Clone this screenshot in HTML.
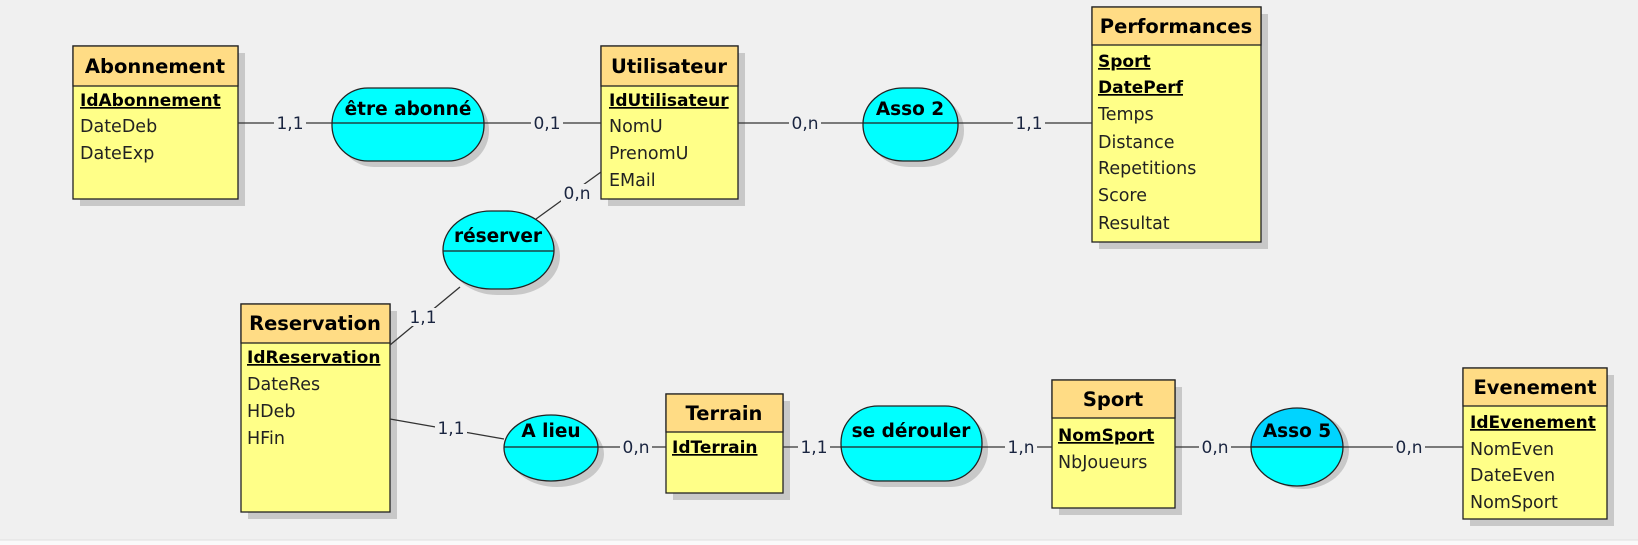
<!DOCTYPE html>
<html><head><meta charset="utf-8"><style>
html,body{margin:0;padding:0;background:#f0f0f0;}
svg{display:block;}
text{font-family:"DejaVu Sans","Liberation Sans",sans-serif;}
.t{font-weight:bold;font-size:19.5px;fill:#000;}
.a{font-size:17.5px;fill:#222;}
.k{font-size:17px;font-weight:bold;fill:#000;text-decoration:underline;}
.c{font-size:17px;fill:#1a2540;}
</style></head><body>
<svg width="1638" height="545" viewBox="0 0 1638 545" xmlns="http://www.w3.org/2000/svg">
<rect x="0" y="0" width="1638" height="545" fill="#f0f0f0"/>
<rect x="0" y="540" width="1638" height="5" fill="#fafafa"/>
<line x1="0" y1="540" x2="1638" y2="540" stroke="#e0e0e0"/>

<!-- association shadows -->
<g fill="#c8c8c8">
<rect x="338" y="94" width="151" height="73" rx="36"/>
<rect x="869" y="94" width="95" height="73" rx="40" ry="36"/>
<rect x="449" y="217" width="111" height="78" rx="48" ry="39"/>
<ellipse cx="557" cy="454" rx="47" ry="33"/>
<rect x="847" y="412" width="141" height="75" rx="37"/>
<ellipse cx="1303" cy="450" rx="46" ry="39"/>
</g>

<!-- entities -->
<g stroke="#222" stroke-width="1.3">
<rect x="80" y="53" width="165" height="153" fill="#c8c8c8" stroke="none"/>
<rect x="73" y="46" width="165" height="153" fill="#ffff88"/>
<rect x="73" y="46" width="165" height="40" fill="#ffdc85"/>
<rect x="608" y="53" width="137" height="153" fill="#c8c8c8" stroke="none"/>
<rect x="601" y="46" width="137" height="153" fill="#ffff88"/>
<rect x="601" y="46" width="137" height="40" fill="#ffdc85"/>
<rect x="1099" y="14" width="169" height="235" fill="#c8c8c8" stroke="none"/>
<rect x="1092" y="7" width="169" height="235" fill="#ffff88"/>
<rect x="1092" y="7" width="169" height="38" fill="#ffdc85"/>
<rect x="248" y="311" width="149" height="208" fill="#c8c8c8" stroke="none"/>
<rect x="241" y="304" width="149" height="208" fill="#ffff88"/>
<rect x="241" y="304" width="149" height="39" fill="#ffdc85"/>
<rect x="673" y="401" width="117" height="99" fill="#c8c8c8" stroke="none"/>
<rect x="666" y="394" width="117" height="99" fill="#ffff88"/>
<rect x="666" y="394" width="117" height="38" fill="#ffdc85"/>
<rect x="1059" y="387" width="123" height="128" fill="#c8c8c8" stroke="none"/>
<rect x="1052" y="380" width="123" height="128" fill="#ffff88"/>
<rect x="1052" y="380" width="123" height="38" fill="#ffdc85"/>
<rect x="1470" y="375" width="144" height="151" fill="#c8c8c8" stroke="none"/>
<rect x="1463" y="368" width="144" height="151" fill="#ffff88"/>
<rect x="1463" y="368" width="144" height="38" fill="#ffdc85"/>
</g>

<!-- connectors -->
<g stroke="#333" stroke-width="1.3" fill="none">
<line x1="238" y1="123" x2="333" y2="123"/>
<line x1="484" y1="123" x2="601" y2="123"/>
<line x1="738" y1="123" x2="863" y2="123"/>
<line x1="958" y1="123" x2="1092" y2="123"/>
<line x1="601" y1="172" x2="536" y2="219"/>
<line x1="460" y1="287" x2="390" y2="345"/>
<line x1="390" y1="419" x2="504" y2="439"/>
<line x1="598" y1="447" x2="666" y2="447"/>
<line x1="783" y1="447" x2="841" y2="447"/>
<line x1="982" y1="447" x2="1052" y2="447"/>
<line x1="1175" y1="447" x2="1251" y2="447"/>
<line x1="1343" y1="447" x2="1463" y2="447"/>
</g>
<g fill="#f0f0f0">
<rect x="274" y="114" width="32" height="18"/>
<rect x="531" y="114" width="32" height="18"/>
<rect x="789" y="114" width="32" height="18"/>
<rect x="1013" y="114" width="32" height="18"/>
<rect x="561" y="184" width="32" height="18"/>
<rect x="407" y="308" width="32" height="18"/>
<rect x="435" y="420" width="32" height="18"/>
<rect x="620" y="438" width="32" height="18"/>
<rect x="798" y="438" width="32" height="18"/>
<rect x="1005" y="438" width="32" height="18"/>
<rect x="1199" y="438" width="32" height="18"/>
<rect x="1393" y="438" width="32" height="18"/>
</g>
<g class="c" text-anchor="middle">
<text x="290" y="129">1,1</text>
<text x="547" y="129">0,1</text>
<text x="805" y="129">0,n</text>
<text x="1029" y="129">1,1</text>
<text x="577" y="199">0,n</text>
<text x="423" y="323">1,1</text>
<text x="451" y="434">1,1</text>
<text x="636" y="453">0,n</text>
<text x="814" y="453">1,1</text>
<text x="1021" y="453">1,n</text>
<text x="1215" y="453">0,n</text>
<text x="1409" y="453">0,n</text>
</g>

<!-- associations -->
<g stroke="#222" stroke-width="1.3">
<rect x="332" y="88" width="152" height="73" rx="36" fill="#00ffff"/>
<line x1="332" y1="123" x2="484" y2="123"/>
<rect x="863" y="88" width="95" height="73" rx="40" ry="36" fill="#00ffff"/>
<line x1="863" y1="123" x2="958" y2="123"/>
<rect x="443" y="211" width="111" height="78" rx="48" ry="39" fill="#00ffff"/>
<line x1="443" y1="251" x2="554" y2="251"/>
<ellipse cx="551" cy="448" rx="47" ry="33" fill="#00ffff"/>
<line x1="504" y1="447" x2="598" y2="447"/>
<rect x="841" y="406" width="141" height="75" rx="37" fill="#00ffff"/>
<line x1="841" y1="447" x2="982" y2="447"/>
<path d="M1251,447 A46,39 0 0 1 1343,447 Z" fill="#00d4ff"/>
<path d="M1251,447 A46,39 0 0 0 1343,447 Z" fill="#00ffff"/>
<line x1="1251" y1="447" x2="1343" y2="447"/>
</g>
<g class="t" text-anchor="middle" style="font-size:18.5px">
<text x="408" y="115">être abonné</text>
<text x="910" y="115">Asso 2</text>
<text x="498" y="242">réserver</text>
<text x="551" y="437">A lieu</text>
<text x="911" y="437">se dérouler</text>
<text x="1297" y="437">Asso 5</text>
</g>

<g class="t" text-anchor="middle">
<text x="155" y="73">Abonnement</text>
<text x="669" y="73">Utilisateur</text>
<text x="1176" y="33">Performances</text>
<text x="315" y="330">Reservation</text>
<text x="724" y="420">Terrain</text>
<text x="1113" y="406">Sport</text>
<text x="1535" y="394">Evenement</text>
</g>
<g>
<text class="k" x="80" y="106">IdAbonnement</text>
<text class="a" x="80" y="132">DateDeb</text>
<text class="a" x="80" y="159">DateExp</text>

<text class="k" x="609" y="106">IdUtilisateur</text>
<text class="a" x="609" y="132">NomU</text>
<text class="a" x="609" y="159">PrenomU</text>
<text class="a" x="609" y="186">EMail</text>

<text class="k" x="1098" y="67">Sport</text>
<text class="k" x="1098" y="93">DatePerf</text>
<text class="a" x="1098" y="120">Temps</text>
<text class="a" x="1098" y="148">Distance</text>
<text class="a" x="1098" y="174">Repetitions</text>
<text class="a" x="1098" y="201">Score</text>
<text class="a" x="1098" y="229">Resultat</text>

<text class="k" x="247" y="363">IdReservation</text>
<text class="a" x="247" y="390">DateRes</text>
<text class="a" x="247" y="417">HDeb</text>
<text class="a" x="247" y="444">HFin</text>

<text class="k" x="672" y="453">IdTerrain</text>

<text class="k" x="1058" y="441">NomSport</text>
<text class="a" x="1058" y="468">NbJoueurs</text>

<text class="k" x="1470" y="428">IdEvenement</text>
<text class="a" x="1470" y="455">NomEven</text>
<text class="a" x="1470" y="481">DateEven</text>
<text class="a" x="1470" y="508">NomSport</text>
</g>
</svg>
</body></html>
